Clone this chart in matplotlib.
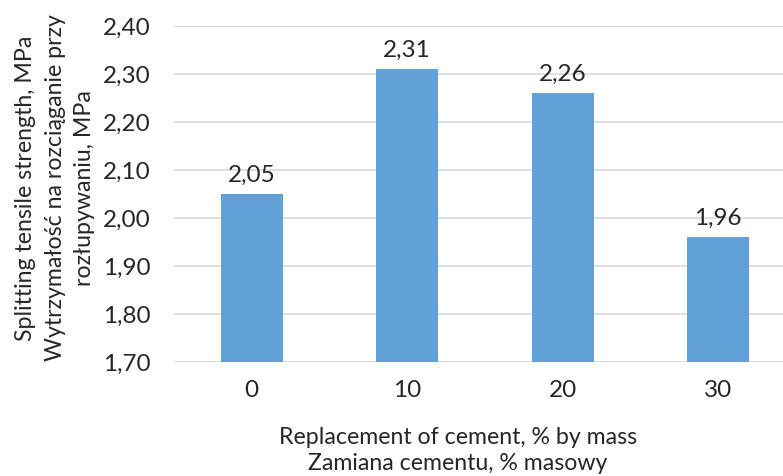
import matplotlib
matplotlib.use("Agg")
import matplotlib.pyplot as plt
from matplotlib.ticker import FuncFormatter

categories = ["0", "10", "20", "30"]
values = [2.05, 2.31, 2.26, 1.96]
y_ticks = [1.70, 1.80, 1.90, 2.00, 2.10, 2.20, 2.30, 2.40]

plt.rcParams["font.family"] = ["Lato", "DejaVu Sans"]
text_color = "#262626"

fig = plt.figure(figsize=(7.83, 4.76), dpi=100)
W, H = 783, 476
left, right, top, bottom = 174, 796, 26, 362
ax = fig.add_axes([left / W, 1 - bottom / H, (right - left) / W, (bottom - top) / H])

x = range(len(categories))
bars = ax.bar(x, values, width=0.40, color="#62a1d8", zorder=3)
for xi, v in zip(x, values):
    ax.text(xi, v + 0.018, f"{v:.2f}".replace(".", ","), ha="center", va="bottom",
            fontsize=17.5, color=text_color)

ax.set_xlim(-0.5, 3.5)
ax.set_ylim(1.70, 2.40)
ax.set_yticks(y_ticks)
ax.yaxis.set_major_formatter(FuncFormatter(lambda v, p: f"{v:.2f}".replace(".", ",")))
ax.set_xticks(list(x))
ax.set_xticklabels(categories)
ax.tick_params(axis="both", length=0, labelsize=17.5, colors=text_color)
ax.tick_params(axis="y", pad=17)
ax.tick_params(axis="x", pad=13)
ax.grid(axis="y", color="#d9d9d9", linewidth=1.2, zorder=0)
for s in ax.spines.values():
    s.set_visible(False)

fig.text(458 / W, 1 - 437 / H, "Replacement of cement, % by mass", ha="center", va="center",
         fontsize=16.7, color=text_color)
fig.text(458 / W, 1 - 464 / H, "Zamiana cementu, % masowy", ha="center", va="center",
         fontsize=16.7, color=text_color)
fig.text(55 / W, 1 - 188 / H,
         "Splitting tensile strength, MPa\nWytrzymałość na rozciąganie przy\nrozłupywaniu, MPa",
         ha="center", va="center", rotation=90, fontsize=16.7, color=text_color,
         linespacing=1.5, multialignment="center")

fig.savefig("out.png", dpi=100)
